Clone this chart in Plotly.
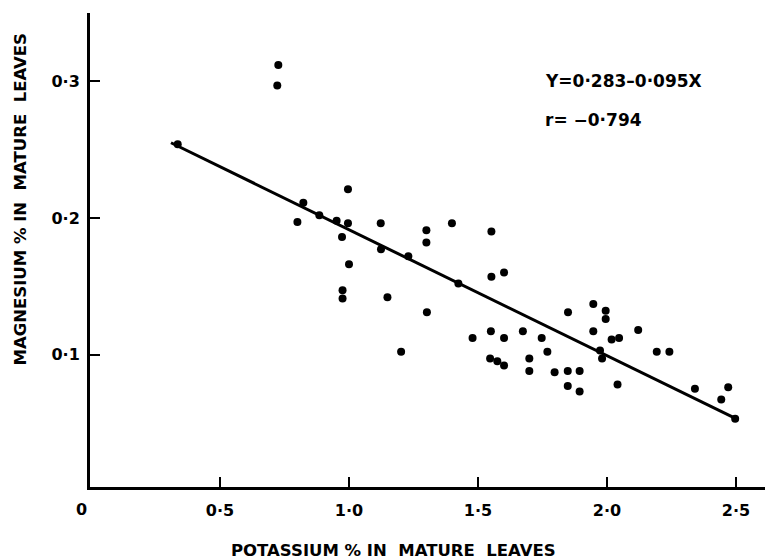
import plotly.graph_objects as go

# Scatter data: potassium % (x) vs magnesium % (y) in mature leaves
potassium = [0.336, 0.726, 0.722, 0.823, 0.800, 0.885, 0.952, 0.996, 0.996, 0.973,
             1.000, 1.123, 1.124, 1.230, 1.300, 1.300, 1.399, 1.552, 1.552, 1.601,
             0.975, 0.975, 1.149, 1.302, 1.202, 1.424, 1.479, 1.550, 1.601, 1.547,
             1.575, 1.601, 1.674, 1.747, 1.699, 1.769, 1.699, 1.797, 1.848, 1.894,
             1.848, 1.894, 1.849, 1.947, 1.995, 1.995, 1.947, 2.018, 2.047, 2.121,
             1.973, 1.981, 2.041, 2.193, 2.242, 2.341, 2.470, 2.443, 2.497]
magnesium = [0.254, 0.312, 0.297, 0.211, 0.197, 0.202, 0.198, 0.221, 0.196, 0.186,
             0.166, 0.196, 0.177, 0.172, 0.191, 0.182, 0.196, 0.190, 0.157, 0.160,
             0.147, 0.141, 0.142, 0.131, 0.102, 0.152, 0.112, 0.117, 0.112, 0.097,
             0.095, 0.092, 0.117, 0.112, 0.097, 0.102, 0.088, 0.087, 0.088, 0.088,
             0.077, 0.073, 0.131, 0.137, 0.132, 0.126, 0.117, 0.111, 0.112, 0.118,
             0.103, 0.097, 0.078, 0.102, 0.102, 0.075, 0.076, 0.067, 0.053]

# Regression line as drawn
fit_x = [0.31, 2.50]
fit_y = [0.255, 0.053]

x_tickvals = [0.5, 1.0, 1.5, 2.0, 2.5]
x_ticktext = ["0·5", "1·0", "1·5", "2·0", "2·5"]
y_tickvals = [0.1, 0.2, 0.3]
y_ticktext = ["0·1", "0·2", "0·3"]

equation_text = "Y=0·283–0·095X"
r_text = "r= −0·794"
x_title = "POTASSIUM % IN  MATURE  LEAVES"
y_title = "MAGNESIUM % IN  MATURE  LEAVES"

FONT = "DejaVu Sans"

fig = go.Figure()
fig.add_trace(go.Scatter(x=fit_x, y=fit_y, mode="lines",
                         line=dict(color="black", width=3), showlegend=False,
                         hoverinfo="skip"))
fig.add_trace(go.Scatter(x=potassium, y=magnesium, mode="markers",
                         marker=dict(color="black", size=8), showlegend=False))

# page body has an 8px default margin; figure sized to fill the rest
fig.update_layout(
    width=765, height=551,
    margin=dict(l=82, r=3, t=5, b=72),
    plot_bgcolor="white", paper_bgcolor="white",
    font=dict(family=FONT, color="black"),
    xaxis=dict(range=[-0.004, 2.632], showgrid=False, zeroline=False,
               showline=True, linecolor="black", linewidth=3,
               ticks="inside", ticklen=10, tickwidth=2, tickcolor="black",
               tickvals=x_tickvals, ticktext=x_ticktext,
               tickfont=dict(family=FONT, size=16, weight="bold"),
               ticklabelstandoff=7),
    yaxis=dict(range=[0.003, 0.35], showgrid=False, zeroline=False,
               showline=True, linecolor="black", linewidth=3,
               ticks="inside", ticklen=10, tickwidth=2, tickcolor="black",
               tickvals=y_tickvals, ticktext=y_ticktext,
               tickfont=dict(family=FONT, size=16, weight="bold"),
               ticklabelstandoff=4),
)

fig.add_annotation(xref="paper", yref="paper", x=0.666, y=0.857,
                   xanchor="left", yanchor="middle", showarrow=False,
                   text=equation_text,
                   font=dict(family=FONT, size=17, weight="bold"))
fig.add_annotation(xref="paper", yref="paper", x=0.666, y=0.774,
                   xanchor="left", yanchor="middle", showarrow=False,
                   text=r_text,
                   font=dict(family=FONT, size=17, weight="bold"))
fig.add_annotation(xref="paper", yref="paper", x=-0.0118, y=-0.0485,
                   xanchor="center", yanchor="middle", showarrow=False,
                   text="0",
                   font=dict(family=FONT, size=16, weight="bold"))
fig.add_annotation(xref="paper", yref="paper", x=0.4456, y=-0.133,
                   xanchor="center", yanchor="middle", showarrow=False,
                   text=x_title,
                   font=dict(family=FONT, size=16.5, weight="bold"))
fig.add_annotation(xref="paper", yref="paper", x=-0.1022, y=0.6076,
                   xanchor="center", yanchor="middle", showarrow=False,
                   textangle=-90, text=y_title,
                   font=dict(family=FONT, size=16.5, weight="bold"))

fig.write_html("out.html")
